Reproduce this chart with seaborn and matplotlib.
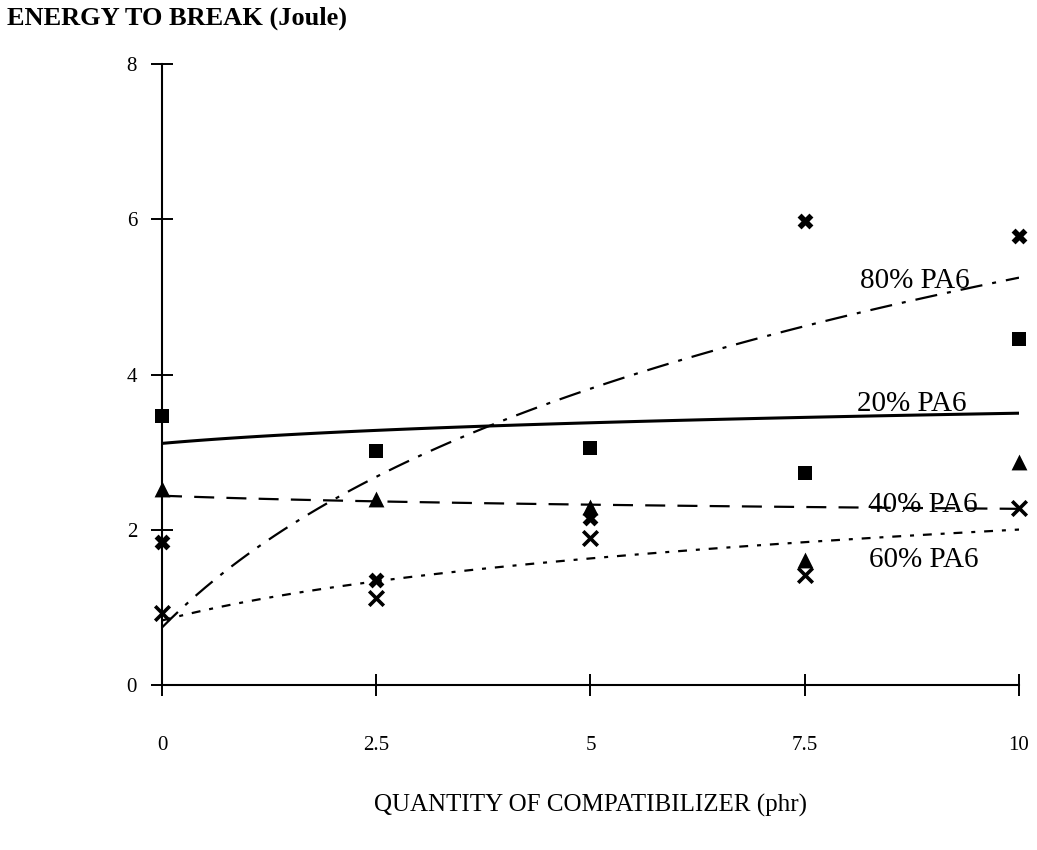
import numpy as np
import pandas as pd
import matplotlib
matplotlib.use("Agg")
import matplotlib.pyplot as plt
import seaborn as sns

# ---- data ----
compat_phr = [0, 2.5, 5, 7.5, 10]
tick_labels = ["0", "2.5", "5", "7.5", "10"]
pa20 = [3.47, 3.01, 3.05, 2.73, 4.46]
pa40 = [2.53, 2.39, 2.29, 1.61, 2.87]
pa60 = [0.93, 1.12, 1.89, 1.42, 2.28]
pa80 = [1.84, 1.35, 2.15, 5.98, 5.79]
series_names = ["20% PA6", "40% PA6", "60% PA6", "80% PA6"]
y_ticks = [0, 2, 4, 6, 8]

sns.set_theme(style="white")
plt.rcParams["font.family"] = ["Liberation Serif", "DejaVu Serif"]

cat_pos = np.arange(1, len(compat_phr) + 1)  # category axis positions (Excel style)
rows = []
for name, vals in zip(series_names, [pa20, pa40, pa60, pa80]):
    for p, phr, v in zip(cat_pos, compat_phr, vals):
        rows.append({"series": name, "pos": p, "phr": phr, "energy": v})
df = pd.DataFrame(rows)

fig = plt.figure(figsize=(10.37, 8.5), dpi=100)
ax = fig.add_axes([162 / 1037, 1 - 685 / 850, (1019 - 162) / 1037, (685 - 64) / 850])

styles = {
    "20% PA6": dict(marker="s", s=110, line=dict(lw=2.2)),
    "40% PA6": dict(marker="^", s=130, line=dict(lw=1.6, dashes=(9.0, 5.5))),
    "60% PA6": dict(marker="x", s=110, line=dict(lw=1.6, dashes=(4.0, 4.0, 1.8, 4.0))),
    "80% PA6": dict(marker="X", s=130, line=dict(lw=1.6, dashes=(10.0, 4.5, 1.8, 4.5))),
}

for name in series_names:
    sub = df[df["series"] == name]
    st = styles[name]
    # logarithmic trend line fitted on the category index
    sns.regplot(data=sub, x="pos", y="energy", logx=True, ci=None, scatter=False,
                truncate=True, color="black", line_kws=st["line"], ax=ax)
    kw = dict(color="black", clip_on=False, zorder=4)
    if st["marker"] == "x":
        kw.update(linewidth=2.6)
    else:
        kw.update(linewidth=0)
    sns.scatterplot(data=sub, x="pos", y="energy", marker=st["marker"], s=st["s"],
                    ax=ax, legend=False, **kw)

# labels next to trend lines
label_pos = {"80% PA6": (4.515, 5.11), "20% PA6": (4.50, 3.53),
             "40% PA6": (4.55, 2.23), "60% PA6": (4.556, 1.52)}
for name, (lx, ly) in label_pos.items():
    ax.text(lx, ly, name, ha="center", va="baseline", fontsize=21, color="black")

ax.set_xlim(cat_pos[0], cat_pos[-1])
ax.set_ylim(0, 8)
ax.set_xticks(cat_pos)
ax.set_xticklabels(tick_labels)
ax.set_yticks(y_ticks)
ax.set_yticklabels([str(t) for t in y_ticks])
ax.set_xlabel("")
ax.set_ylabel("")

for side in ["top", "right"]:
    ax.spines[side].set_visible(False)
for side in ["left", "bottom"]:
    ax.spines[side].set_color("black")
    ax.spines[side].set_linewidth(1.5)

ax.tick_params(axis="both", which="major", bottom=True, left=True,
               direction="inout", length=16, width=1.4, colors="black",
               labelsize=15)
ax.tick_params(axis="x", pad=29)
ax.tick_params(axis="y", pad=10)
ax.grid(False)

fig.text(7 / 1037, 1 - 18 / 850, "ENERGY TO BREAK (Joule)", ha="left", va="center",
         fontsize=19, fontweight="bold", color="black")
fig.text(591 / 1037, 1 - 805 / 850, "QUANTITY OF COMPATIBILIZER (phr)", ha="center",
         va="center", fontsize=18, color="black")

fig.savefig("out.png", dpi=100, facecolor="white")
